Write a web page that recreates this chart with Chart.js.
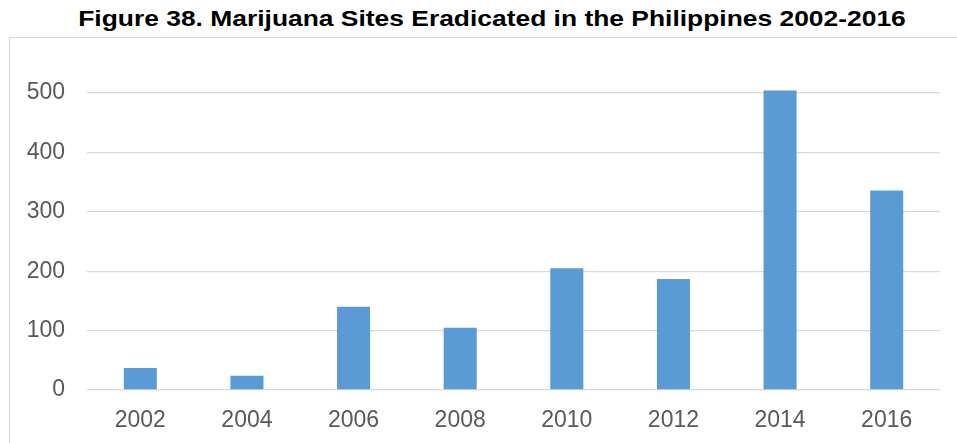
<!DOCTYPE html>
<html>
<head>
<meta charset="utf-8">
<script src="https://cdn.jsdelivr.net/npm/chart.js@4"></script>
<style>
    body { margin: 0; background: #fff; width: 957px; height: 443px; overflow: hidden; position: relative; }
    .title {
        position: absolute; left: 0; top: 8px; width: 984px; text-align: center;
        font: bold 22px/22px "Liberation Sans", Arial, sans-serif; color: #000;
        transform: scaleX(1.2); transform-origin: 492px 0;
        white-space: nowrap;
    }
    .box {
        position: absolute; left: 9px; top: 37px; width: 1000px; height: 500px;
        border: 1px solid #d9d9d9;
    }
    #wrap { position: absolute; left: 0; top: 0; width: 957px; height: 443px; }
</style>
</head>
<body>
<div class="title">Figure 38. Marijuana Sites Eradicated in the Philippines 2002-2016</div>
<div class="box"></div>
<div id="wrap"><canvas id="sitesChart"></canvas></div>
<script>
// Data
const years = ['2002', '2004', '2006', '2008', '2010', '2012', '2014', '2016'];
const sitesEradicated = [37, 24, 140, 105, 205, 187, 504, 336];
const yTicks = [0, 100, 200, 300, 400, 500];

const tickFont = { family: '"Liberation Sans", Arial, sans-serif', size: 23 };

const ctx = document.getElementById('sitesChart').getContext('2d');

new Chart(ctx, {
    type: 'bar',
    data: {
        labels: years,
        datasets: [{
            label: 'Sites eradicated',
            data: sitesEradicated,
            backgroundColor: '#5b9bd5',
            borderWidth: 0,
            categoryPercentage: 1,
            barPercentage: 0.31,
            clip: false
        }]
    },
    options: {
        responsive: true,
        maintainAspectRatio: false,
        animation: false,
        layout: {
            padding: { top: 93, right: 17, bottom: 0, left: 0 }
        },
        scales: {
            y: {
                min: 0,
                max: 500,
                afterFit: (scale) => { scale.width = 87; },
                afterBuildTicks: (scale) => {
                    scale.ticks = yTicks.map(v => ({ value: v }));
                },
                border: { display: false },
                grid: {
                    color: '#d9d9d9',
                    lineWidth: 1.3,
                    drawTicks: false
                },
                ticks: {
                    color: '#595959',
                    padding: 22,
                    font: tickFont
                }
            },
            x: {
                afterFit: (scale) => { scale.height = 53; },
                border: { display: false },
                grid: { display: false, drawTicks: false },
                ticks: {
                    color: '#595959',
                    padding: 17,
                    maxRotation: 0,
                    font: tickFont
                }
            }
        },
        plugins: {
            legend: { display: false },
            tooltip: { enabled: false }
        }
    }
});
</script>
</body>
</html>
